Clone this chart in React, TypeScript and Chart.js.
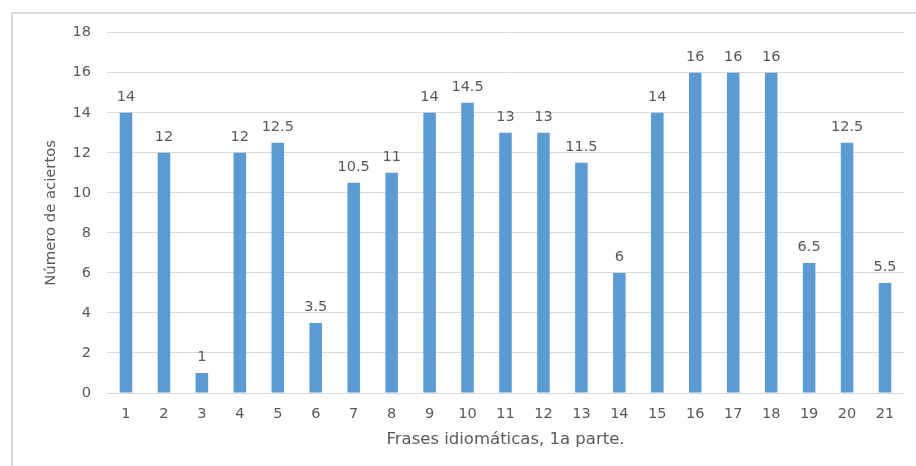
import React, { useEffect, useRef } from "react";
import { Chart, registerables } from "chart.js";

Chart.register(...registerables);

const categories = ["1","2","3","4","5","6","7","8","9","10","11","12","13","14","15","16","17","18","19","20","21"];
const aciertos = [14, 12, 1, 12, 12.5, 3.5, 10.5, 11, 14, 14.5, 13, 13, 11.5, 6, 14, 16, 16, 16, 6.5, 12.5, 5.5];
const yTitle = "Número de aciertos";
const xTitle = "Frases idiomáticas, 1a parte.";

const FONT = "'DejaVu Sans', Verdana, sans-serif";
const TEXT = "#595959";

const labelPlugin = {
  id: "valueLabels",
  afterDatasetsDraw(chart: any) {
    const ctx = chart.ctx;
    const meta = chart.getDatasetMeta(0);
    ctx.save();
    ctx.font = `14.5px ${FONT}`;
    ctx.fillStyle = TEXT;
    ctx.textAlign = "center";
    ctx.textBaseline = "alphabetic";
    meta.data.forEach((bar: any, i: number) => {
      ctx.fillText(String(aciertos[i]), bar.x, bar.y - 12);
    });
    ctx.restore();
  },
};

export default function App() {
  const ref = useRef<HTMLCanvasElement>(null);
  useEffect(() => {
    if (!ref.current) return;
    const chart = new Chart(ref.current, {
      type: "bar",
      data: {
        labels: categories,
        datasets: [
          {
            data: aciertos,
            backgroundColor: "#5B9BD5",
            borderWidth: 0,
            categoryPercentage: 1,
            barPercentage: 0.33,
          },
        ],
      },
      options: {
        animation: false,
        responsive: false,
        maintainAspectRatio: false,
        layout: { padding: { top: 24, right: 12, left: 0, bottom: 0 } },
        plugins: { legend: { display: false }, tooltip: { enabled: false } },
        scales: {
          x: {
            grid: { display: false, drawTicks: false },
            border: { display: false },
            ticks: { color: TEXT, font: { family: FONT, size: 14.5 }, padding: 13, maxRotation: 0 },
            title: { display: true, text: xTitle, color: TEXT, font: { family: FONT, size: 16.5 }, padding: { top: 0, bottom: 8 } },
            afterFit: (s: any) => { s.height = 65; },
          },
          y: {
            min: 0,
            max: 18,
            ticks: { stepSize: 2, color: TEXT, font: { family: FONT, size: 14.5 }, padding: 16 },
            grid: { color: "#d9d9d9", lineWidth: 1, drawTicks: false },
            border: { display: false },
            title: { display: true, text: yTitle, color: TEXT, font: { family: FONT, size: 14.8 }, padding: { top: 34.5, bottom: 0 } },
            afterFit: (s: any) => { s.width = 99; },
          },
        },
      },
      plugins: [labelPlugin],
    });
    return () => chart.destroy();
  }, []);
  return (
    <div style={{ position: "relative", width: 900, height: 450 }}>
      <div style={{ position: "fixed", left: 11, top: 12, width: 905, height: 454, borderLeft: "2px solid #d9d9d9", borderTop: "2px solid #d9d9d9", boxSizing: "border-box" }} />
      <canvas ref={ref} width={908} height={450} style={{ position: "fixed", left: 8, top: 8, width: 908, height: 450 }} />
    </div>
  );
}
